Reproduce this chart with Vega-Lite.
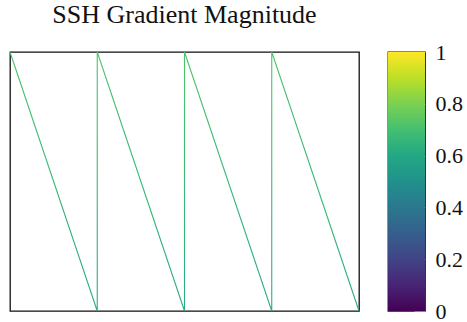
{
  "$schema": "https://vega.github.io/schema/vega-lite/v6.json",
  "padding": {"left": 7, "top": 1, "right": 0, "bottom": 0},
  "background": "white",
  "spacing": 24,
  "config": {
    "view": {"stroke": "#111", "strokeWidth": 1.3},
    "font": "Liberation Serif",
    "axis": {"minExtent": 0}
  },
  "datasets": {
    "saw": [
      {"i": 0, "x": 0, "y": 1},
      {"i": 1, "x": 1, "y": 0},
      {"i": 2, "x": 1, "y": 1},
      {"i": 3, "x": 2, "y": 0},
      {"i": 4, "x": 2, "y": 1},
      {"i": 5, "x": 3, "y": 0},
      {"i": 6, "x": 3, "y": 1},
      {"i": 7, "x": 4, "y": 0}
    ],
    "bar": [{"lo": 0, "hi": 1}]
  },
  "hconcat": [
    {
      "width": 349,
      "height": 259,
      "title": {
        "text": "SSH Gradient Magnitude",
        "font": "Liberation Serif",
        "fontSize": 26,
        "fontWeight": "normal",
        "anchor": "middle",
        "offset": 22,
        "color": "#111"
      },
      "data": {"name": "saw"},
      "mark": {
        "type": "line",
        "strokeWidth": 1.1,
        "stroke": {
          "gradient": "linear",
          "x1": 0, "y1": 0, "x2": 0, "y2": 1,
          "stops": [
            {"offset": 0, "color": "#4cc46b"},
            {"offset": 1, "color": "#27ad82"}
          ]
        }
      },
      "encoding": {
        "x": {"field": "x", "type": "quantitative", "scale": {"domain": [0, 4], "nice": false, "zero": false}, "axis": null},
        "y": {"field": "y", "type": "quantitative", "scale": {"domain": [0, 1], "nice": false}, "axis": null},
        "order": {"field": "i", "type": "quantitative"}
      }
    },
    {
      "width": 37,
      "height": 259,
      "data": {"name": "bar"},
      "layer": [
        {
          "mark": {
            "type": "rect",
            "fill": {
              "gradient": "linear",
              "x1": 0, "y1": 1, "x2": 0, "y2": 0,
              "stops": [
                {"offset": 0.0, "color": "#440154"},
                {"offset": 0.1, "color": "#482475"},
                {"offset": 0.2, "color": "#414487"},
                {"offset": 0.3, "color": "#355f8d"},
                {"offset": 0.4, "color": "#2a788e"},
                {"offset": 0.5, "color": "#21918c"},
                {"offset": 0.6, "color": "#22a884"},
                {"offset": 0.7, "color": "#44bf70"},
                {"offset": 0.8, "color": "#7ad151"},
                {"offset": 0.9, "color": "#bddf26"},
                {"offset": 1.0, "color": "#fde725"}
              ]
            }
          },
          "encoding": {
            "x": {"datum": 0, "type": "quantitative", "scale": {"domain": [0, 1], "nice": false}, "axis": null},
            "x2": {"datum": 1},
            "y": {"field": "lo", "type": "quantitative", "scale": {"domain": [0, 1], "nice": false},
              "axis": {"orient": "right", "values": [0, 0.2, 0.4, 0.6, 0.8, 1], "format": "~g", "domain": false,
                "grid": false, "tickSize": -11, "tickColor": "#888", "tickWidth": 1, "labelPadding": 21,
                "labelFont": "Liberation Serif", "labelFontSize": 22, "labelColor": "#111", "labelBaseline": "middle", "labelFlush": false, "labelOverlap": false, "title": null}},
            "y2": {"field": "hi"}
          }
        },
        {
          "mark": {"type": "rect", "opacity": 0},
          "encoding": {
            "x": {"datum": 0, "type": "quantitative", "scale": {"domain": [0, 1], "nice": false}, "axis": null},
            "x2": {"datum": 1},
            "y": {"field": "lo", "type": "quantitative", "scale": {"domain": [0, 1], "nice": false},
              "axis": {"orient": "left", "values": [0.2, 0.4, 0.6, 0.8], "labels": false, "domain": false,
                "grid": false, "tickSize": -11, "tickColor": "#888", "tickWidth": 1, "title": null}},
            "y2": {"field": "hi"}
          }
        }
      ],
      "resolve": {"axis": {"y": "independent"}}
    }
  ]
}
